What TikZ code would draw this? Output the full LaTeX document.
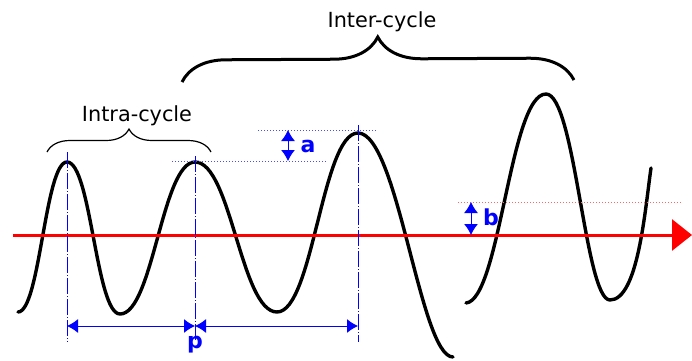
\documentclass[tikz,border=0pt]{standalone}
\usepackage{fontspec}
\setmainfont{DejaVu Sans}
\usetikzlibrary{arrows.meta,decorations.pathreplacing}
\begin{document}
\begin{tikzpicture}[x=0.5pt,y=-0.5pt,
    waveLine/.style={line width=1.7pt,line cap=round},
    axisArrowS/.style={-{Triangle[length=10pt,width=15.5pt]},red,line width=1.5pt},
    guideV/.style={blue,line width=0.4pt,dash pattern=on 8pt off 1pt on 0.5pt off 1pt},
    guideH/.style={blue!70,line width=0.5pt,densely dotted},
    guideR/.style={red!60,line width=0.5pt,densely dotted},
    dimArrowS/.style={{Latex[length=5.5pt,width=7pt]}-{Latex[length=5.5pt,width=7pt]},blue,line width=0.5pt},
    dimLabel/.style={blue,font=\fontsize{11}{13}\selectfont\bfseries},
    braceLbl/.style={font=\fontsize{10.4}{12}\selectfont},
]
\useasboundingbox (0,0) rectangle (692,360);
% wave points
\coordinate (w1s) at (18,312);
\coordinate (w1p1) at (67,162);
\coordinate (w1t1) at (120,314);
\coordinate (w1p2) at (195,162);
\coordinate (w1t2) at (277,312);
\coordinate (w1p3) at (358,133);
\coordinate (w1e) at (453,357);
\coordinate (w2s) at (466,303);
\coordinate (w2p) at (546,94);
\coordinate (w2t) at (610,300);
\coordinate (w2e) at (651,168);
% first run of cycles
\draw[waveLine] (w1s) .. controls (40,312) and (45,162) .. (w1p1)
    .. controls (91,162) and (96,314) .. (w1t1)
    .. controls (153,314) and (162,162) .. (w1p2)
    .. controls (231,162) and (241,312) .. (w1t2)
    .. controls (313,312) and (322,133) .. (w1p3)
    .. controls (398,133) and (420,357) .. (w1e);
% second run
\draw[waveLine] (w2s) .. controls (500,300) and (510,94) .. (w2p)
    .. controls (575,94) and (585,300) .. (w2t)
    .. controls (638,300) and (645,210) .. (w2e);
% axis
\coordinate (axisL) at (13,235);
\coordinate (axisR) at (692,235);
\draw[axisArrowS] (axisL) -- (axisR);
% guides
\draw[guideV] (67,152) -- (67,342);
\draw[guideV] (195,156) -- (195,340);
\draw[guideV] (358,125) -- (358,342);
\draw[guideH] (172,161) -- (327,161);
\draw[guideH] (258,130) -- (378,130);
\draw[guideR] (458,202) -- (682,202);
% dimensions
\coordinate (aTop) at (288,130);
\coordinate (aBot) at (288,161);
\coordinate (bTop) at (471,202);
\coordinate (bBot) at (471,235);
\coordinate (pL) at (67,326);
\coordinate (pM) at (195,326);
\coordinate (pR) at (358,326);
\draw[dimArrowS] (aTop) -- (aBot);
\draw[dimArrowS] (bTop) -- (bBot);
\draw[dimArrowS] (pL) -- (pM);
\draw[dimArrowS] (pM) -- (pR);
\node[dimLabel] (aLbl) at (308,146) {a};
\node[dimLabel] (bLbl) at (491,217) {b};
\node[dimLabel] (pLbl) at (195,345) {p};
% braces
\draw[line width=0.6pt,decorate,decoration={brace,amplitude=11.5pt}] (47,152) -- (211,152);
\draw[line width=1.5pt,decorate,decoration={brace,amplitude=22pt}] (182,82) -- (574,80);
\node[braceLbl] (intraLbl) at (137,116) {Intra-cycle};
\node[braceLbl] (interLbl) at (382,22) {Inter-cycle};
\end{tikzpicture}
\end{document}
